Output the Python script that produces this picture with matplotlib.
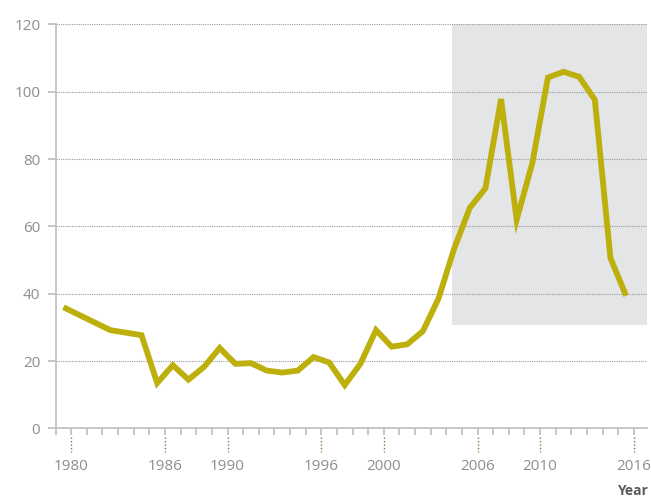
import numpy as np
import matplotlib
matplotlib.use('Agg')
import matplotlib.pyplot as plt
from matplotlib.patches import Rectangle

plt.rcParams['font.family'] = ['Open Sans', 'DejaVu Sans']

# data: each value belongs to a year and sits at mid-year on the axis
years = [1979, 1982, 1984, 1985, 1986, 1987, 1988, 1989, 1990, 1991,
         1992, 1993, 1994, 1995, 1996, 1997, 1998, 1999, 2000, 2001,
         2002, 2003, 2004, 2005, 2006, 2007, 2008, 2009, 2010, 2011,
         2012, 2013, 2014, 2015]
values = [36.0, 29.2, 27.7, 13.5, 18.8, 14.5, 18.3, 23.9, 19.2, 19.4,
          17.2, 16.6, 17.2, 21.2, 19.6, 12.9, 19.2, 29.2, 24.3, 25.0,
          28.9, 38.6, 53.4, 65.5, 71.3, 97.8, 62.0, 78.8, 104.2, 105.9,
          104.4, 97.6, 50.6, 39.4]
label_years = [1980, 1986, 1990, 1996, 2000, 2006, 2010, 2016]
y_ticks = [0, 20, 40, 60, 80, 100, 120]

# highlighted period
shade_x0, shade_x1 = 2004.35, 2016.84
shade_y0, shade_y1 = 30.6, 120

LINE = '#bdb00c'
AXIS = '#c2c2c2'
TEXT = '#8e8e8e'

fig = plt.figure(figsize=(6.51, 4.99), dpi=100)
ax = fig.add_axes([0.0854, 0.1413, 0.9085, 0.81])

ax.add_patch(Rectangle((shade_x0, shade_y0), shade_x1 - shade_x0, shade_y1 - shade_y0,
                       facecolor='#e4e5e7', edgecolor='none', zorder=0.3))

ax.plot(np.array(years) + 0.5, values, color=LINE, lw=4.2,
        solid_joinstyle='miter', solid_capstyle='butt', zorder=3)

ax.set_xlim(1979, 2016.84)
ax.set_ylim(0, 120)

ax.set_yticks(y_ticks)
ax.yaxis.grid(True, color='#9a9a9a', linestyle=(0, (1, 1)), lw=0.8)
ax.set_axisbelow(True)

ax.set_xticks(label_years)
ax.set_xticks(range(1979, 2017), minor=True)
ax.xaxis.remove_overlapping_locs = False

for s in ['top', 'right']:
    ax.spines[s].set_visible(False)
for s in ['left', 'bottom']:
    ax.spines[s].set_color(AXIS)
    ax.spines[s].set_linewidth(1.3)

ax.tick_params(axis='y', length=6, width=1.3, color=AXIS, labelcolor=TEXT,
               labelsize=11, pad=5)
ax.tick_params(axis='x', which='major', length=0, labelcolor=TEXT,
               labelsize=11, pad=22)
ax.tick_params(axis='x', which='minor', length=5, width=1.3, color=AXIS)

# dotted guides under the labelled years
for yr in label_years:
    ax.plot([yr, yr], [-0.022, -0.058], transform=ax.get_xaxis_transform(),
            color='#5f8a3c', lw=1, linestyle=(0, (1, 1.5)), clip_on=False)

fig.text(617 / 651, 1 - 484 / 499, 'Year', ha='left', va='top',
         fontsize=10, fontweight='bold', color='#5a5a5a')

fig.savefig('out.png', dpi=100)
